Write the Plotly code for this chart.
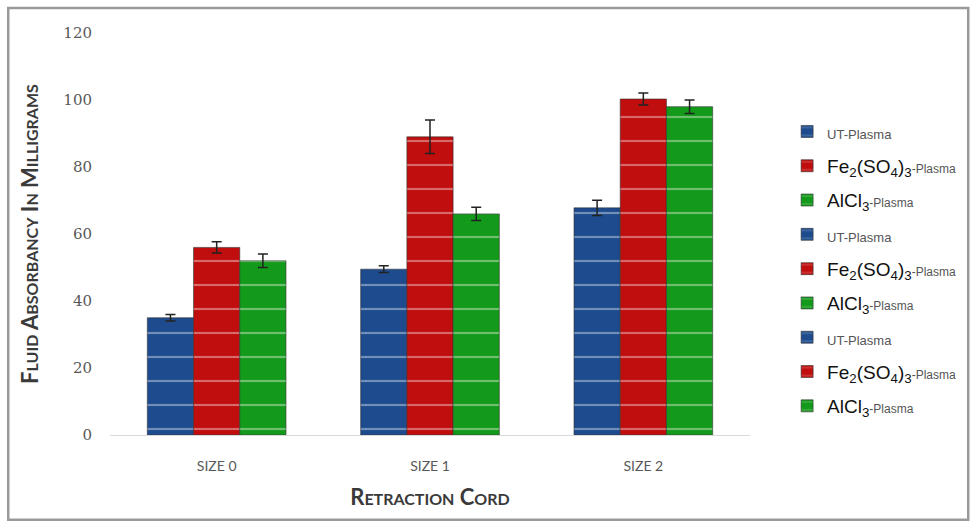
import plotly.graph_objects as go

categories = ["SIZE 0", "SIZE 1", "SIZE 2"]
ut_plasma = [35.0, 49.5, 67.8]
fe_plasma = [56.0, 89.0, 100.3]
al_plasma = [52.0, 66.0, 98.0]
ut_err = [1.0, 1.0, 2.3]
fe_err = [1.7, 5.0, 1.8]
al_err = [2.0, 2.0, 2.0]

small = "<span style='font-size:12px;color:#555555'>{}</span>"
series = [
    ("UT", "<span style='font-size:13px;color:#555555'>UT-Plasma</span>", ut_plasma, ut_err, "#1d4b8d"),
    ("FE", "Fe<sub>2</sub>(SO<sub>4</sub>)<sub>3</sub>" + small.format("-Plasma"), fe_plasma, fe_err, "#c00e0e"),
    ("AL", "AlCl<sub>3</sub>" + small.format("-Plasma"), al_plasma, al_err, "#149a1a"),
]

fig = go.Figure()
k = 0
for i, cat in enumerate(categories):
    for key, name, vals, errs, color in series:
        fig.add_trace(go.Bar(
            x=[cat], y=[vals[i]], name=name, offsetgroup=key,
            legendgroup="g%d" % k,
            marker=dict(color=color, line=dict(color="#333333", width=0.6),
                        pattern=dict(shape="-", size=24, solidity=0.09,
                                     fgcolor="rgba(255,255,255,0.75)")),
            error_y=dict(type="data", array=[errs[i]], color="#222222",
                         thickness=1.5, width=5),
        ))
        k += 1

def smallcaps(words, sm=16):
    out = []
    for w in words:
        out.append(w[0] + "<span style='font-size:%dpx'>%s</span>" % (sm, w[1:].upper()))
    return " ".join(out)

fig.update_layout(
    width=974, height=522,
    margin=dict(l=110, r=224, t=33, b=87),
    paper_bgcolor="white", plot_bgcolor="white",
    barmode="group", bargap=0.35, bargroupgap=0,
    showlegend=True,
    legend=dict(x=1.058, y=0.802, xanchor="left", yanchor="top",
                traceorder="grouped", tracegroupgap=6.6,
                font=dict(family="Liberation Sans, Arial", size=19, color="#111111"),
                itemwidth=30, bgcolor="rgba(0,0,0,0)"),
    xaxis=dict(showline=True, linecolor="#d9d9d9", linewidth=1, ticks="",
               ticklabelstandoff=18,
               tickfont=dict(family="Lato, Open Sans", size=14, color="#595959"),
               title=dict(text=smallcaps(["Retraction", "Cord"]), standoff=16,
                          font=dict(family="Lato", size=22, color="#3a3a3a", weight="bold"))),
    yaxis=dict(range=[0, 120], dtick=20, showgrid=False, showline=False, zeroline=False,
               ticks="", ticklabelstandoff=17,
               tickfont=dict(family="DejaVu Serif", size=15, color="#595959"),
               title=dict(text=smallcaps(["Fluid", "Absorbancy", "In", "Milligrams"]), standoff=18,
                          font=dict(family="Lato", size=22, color="#3a3a3a", weight="bold"))),
    shapes=[dict(type="rect", xref="paper", yref="paper", x0=-0.159, x1=1.341,
                 y0=-0.211, y1=1.062, line=dict(color="#9a9a9a", width=2.5),
                 fillcolor="rgba(0,0,0,0)", layer="below")],
)

fig.write_html("out.html", config={"displayModeBar": False},
               post_script="document.body.style.margin='0';")
